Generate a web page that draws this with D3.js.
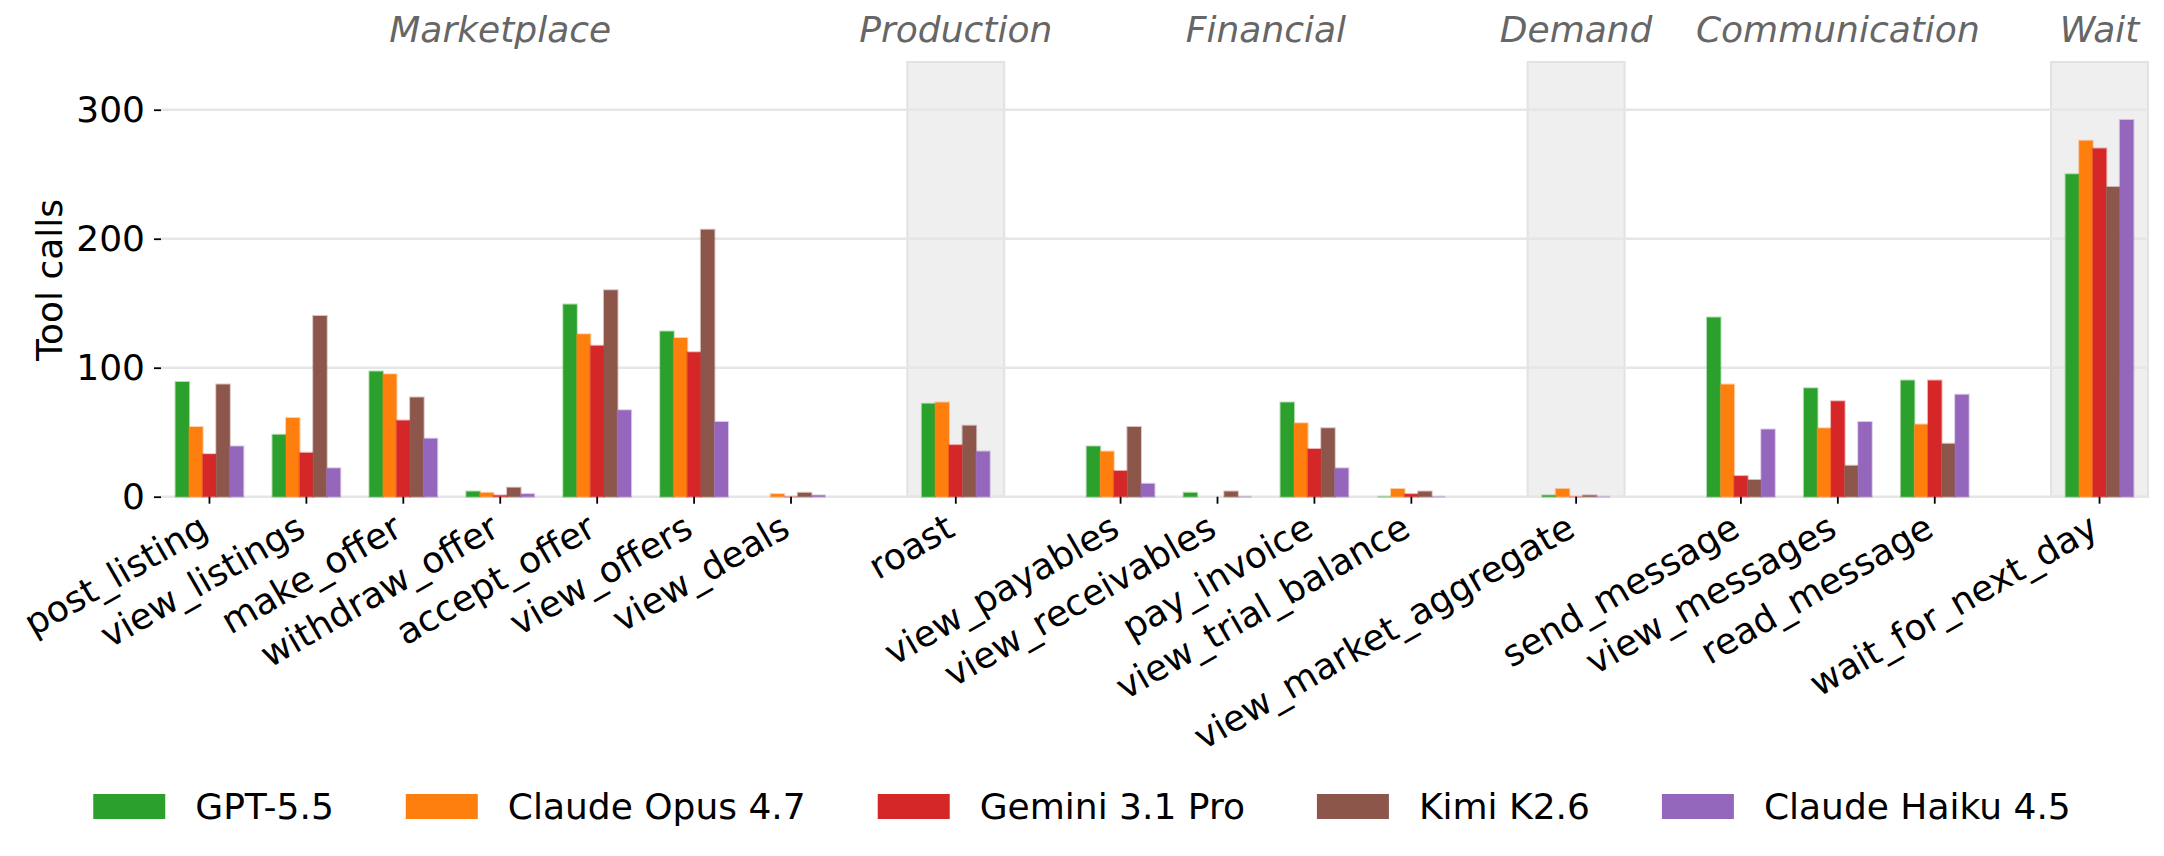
<!DOCTYPE html>
<meta charset="utf-8">
<style>
body{margin:0;background:#fff;}
text{font-family:"DejaVu Sans",sans-serif;font-size:36px;fill:#000;}
.group-label{font-style:italic;fill:#666;text-anchor:middle;}
.grid line{stroke:#e6e6e6;stroke-width:2.5px;}
.span{fill:#efefef;stroke:#e2e2e2;stroke-width:2px;}
.tick line{stroke:#000;stroke-width:1.8px;}
</style>
<body>
<script src="https://cdn.jsdelivr.net/npm/d3@7"></script>
<script>

var groups=['Marketplace','Production','Financial','Demand','Communication','Wait'];
var groupSize=[7,1,4,1,3,1];
var shaded=[false,true,false,true,false,true];
var tools=['post_listing','view_listings','make_offer','withdraw_offer','accept_offer','view_offers','view_deals',
	'roast',
	'view_payables','view_receivables','pay_invoice','view_trial_balance',
	'view_market_aggregate',
	'send_message','view_messages','read_message',
	'wait_for_next_day'];

var models=['GPT-5.5','Claude Opus 4.7','Gemini 3.1 Pro','Kimi K2.6','Claude Haiku 4.5'];
var colors=['#2ca02c','#ff7f0e','#d62728','#8c564b','#9467bd'];

// null = no bar drawn for that tool
var gpt   =[89,48,97,4,149,128,null, 72, 39,3,73,0, 1, 139,84,90, 250];
var opus  =[54,61,95,3,126,123,2, 73, 35,null,57,6, 6, 87,53,56, 276];
var gemini=[33,34,59,1,117,112,0, 40, 20,null,37,2, 0, 16,74,90, 270];
var kimi  =[87,140,77,7,160,207,3, 55, 54,4,53,4, 1, 13,24,41, 240];
var haiku =[39,22,45,2,67,58,1, 35, 10,0,22,0, 0, 52,58,79, 292];
var series=[gpt,opus,gemini,kimi,haiku];

var yTicks=[0,100,200,300];

var W=2164,H=856;
var svg=d3.select("body").append("svg").attr("width",W).attr("height",H);

// x positions: one unit per tool, extra 0.7 between groups
var gap=0.7, pos=[], groupIdx=[];
var k=0;
groupSize.forEach(function(n,g){
	for(var j=0;j<n;j++){ pos.push(k+g*gap); groupIdx.push(g); k++; }
});

var x=d3.scaleLinear().domain([-0.5,pos[pos.length-1]+0.5]).range([161,2148]);
var y=d3.scaleLinear().domain([0,337]).range([496.7,62]);
var barW=0.14;

// shaded spans
var spans=[];
groups.forEach(function(gname,g){
	var ps=pos.filter(function(p,i){return groupIdx[i]==g;});
	spans.push({name:gname,lo:ps[0],hi:ps[ps.length-1],shade:shaded[g]});
});

svg.append("g").selectAll("rect").data(spans.filter(d=>d.shade)).join("rect")
	.attr("class","span")
	.attr("x",d=>x(d.lo-0.5)).attr("width",d=>x(d.hi+0.5)-x(d.lo-0.5))
	.attr("y",y(337)).attr("height",y(0)-y(337));

// grid
svg.append("g").attr("class","grid").selectAll("line").data(yTicks).join("line")
	.attr("x1",x.range()[0]).attr("x2",x.range()[1])
	.attr("y1",d=>y(d)).attr("y2",d=>y(d));

// bars (paths so zero-height bars still show their edge)
series.forEach(function(vals,s){
	var off=(s-2)*barW;
	var data=vals.map(function(v,i){return {v:v,i:i};}).filter(d=>d.v!==null);
	svg.append("g").selectAll("path").data(data).join("path")
		.attr("d",function(d){
			var x0=x(pos[d.i]+off-barW/2), x1=x(pos[d.i]+off+barW/2);
			return "M"+x0+","+y(0)+"H"+x1+"V"+y(d.v)+"H"+x0+"Z";
		})
		.attr("fill",colors[s])
		.attr("stroke",colors[s]).attr("stroke-opacity",0.35).attr("stroke-width",2);
});

// y axis
var ya=svg.append("g").attr("transform","translate(161,0)")
	.call(d3.axisLeft(y).tickValues(yTicks).tickSize(7).tickPadding(9));
ya.select(".domain").remove();
ya.selectAll("text").style("font-size","36px").attr("fill","#000");

svg.append("text").attr("transform","translate(49,280) rotate(-90)")
	.attr("text-anchor","middle").attr("dy","0.35em").text("Tool calls");

// x axis ticks and labels
var xt=svg.append("g");
xt.selectAll("line").data(pos).join("line")
	.attr("x1",d=>x(d)).attr("x2",d=>x(d)).attr("y1",y(0)).attr("y2",y(0)+7)
	.attr("stroke","#000").attr("stroke-width",1.8);
xt.selectAll("text").data(tools).join("text")
	.attr("transform",(d,i)=>"translate("+(x(pos[i])+1)+","+(y(0)+38)+") rotate(-30)")
	.attr("text-anchor","end").text(d=>d);

// group labels
svg.append("g").selectAll("text").data(spans).join("text")
	.attr("class","group-label")
	.attr("x",d=>x((d.lo+d.hi)/2)).attr("y",42).text(d=>d.name);

// legend
var lg=svg.append("g");
var items=lg.selectAll("g").data(models).join("g");
items.append("rect").attr("width",72).attr("height",25).attr("y",794)
	.attr("fill",(d,i)=>colors[i]);
items.append("text").attr("x",102).attr("y",819).text(d=>d);
var cx=0;
items.each(function(d){
	var w=d3.select(this).select("text").node().getComputedTextLength();
	d3.select(this).attr("transform","translate("+cx+",0)");
	cx+=102+w+72;
});
var total=cx-72;
lg.attr("transform","translate("+((W-total)/2)+",0)");

</script>
</body>
</html>
